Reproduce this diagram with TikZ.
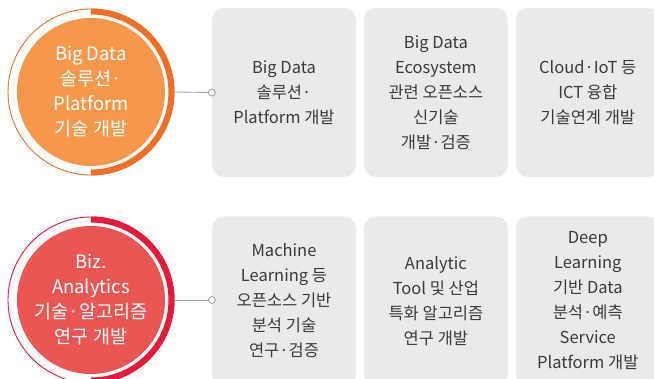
\documentclass[tikz,border=0pt]{standalone}
\usepackage{fontspec}
\setmainfont{Noto Sans CJK KR}
\usetikzlibrary{positioning}
\definecolor{cardGray}{RGB}{233,234,236}
\definecolor{bodyText}{RGB}{58,58,58}
\definecolor{orangeFill}{RGB}{246,152,76}
\definecolor{orangeRing}{RGB}{241,112,38}
\definecolor{redFill}{RGB}{233,86,84}
\definecolor{redRing}{RGB}{227,27,56}
\definecolor{linkGray}{RGB}{160,164,168}

\begin{document}
\begin{tikzpicture}[x=1pt, y=1pt,
  card/.style={fill=cardGray, rounded corners=12pt, minimum width=144pt, minimum height=169pt,
               align=center, text=bodyText, inner sep=0pt, font=\fontsize{16.5}{25}\selectfont},
  topic/.style={circle, minimum size=148pt, inner sep=0pt, align=center, text=white,
                font=\fontsize{18.5}{25}\selectfont},
  ringthin/.style={line width=0.9pt},
  ringthick/.style={line width=6pt},
  link/.style={draw=linkGray, line width=0.9pt},
  dotmark/.style={circle, draw=linkGray, fill=white, line width=0.9pt, minimum size=7pt, inner sep=0pt}
]
\useasboundingbox (0,0) rectangle (654,378);
\clip (0,0) rectangle (654,378);

% top row: Big Data
\node[topic, fill=orangeFill] (bigdata) at (91,286) {Big Data\\솔루션·\\Platform\\기술 개발};
\draw[ringthin, draw=orangeRing] (bigdata.center) circle[radius=83];
\draw[ringthick, draw=orangeRing] ([yshift=80.5pt]bigdata.center) arc[start angle=90, end angle=-90, radius=80.5];
\node[card] (bd1) at (284,285.5) {Big Data\\솔루션·\\Platform 개발};
\node[card, right=7.5pt of bd1] (bd2) {Big Data\\Ecosystem\\관련 오픈소스\\신기술\\개발·검증};
\node[card, right=7.5pt of bd2] (bd3) {Cloud·IoT 등\\ICT 융합\\기술연계 개발};
\coordinate (bdedge) at ([xshift=9.5pt]bigdata.east);
\node[dotmark] (bddot) at (bd1.west) {};
\draw[link] (bdedge) -- (bddot);

% bottom row: Biz. Analytics
\node[topic, fill=redFill] (bizana) at (91,78) {Biz.\\Analytics\\기술·알고리즘\\연구 개발};
\draw[ringthin, draw=redRing] (bizana.center) circle[radius=83];
\draw[ringthick, draw=redRing] ([yshift=80.5pt]bizana.center) arc[start angle=90, end angle=-90, radius=80.5];
\node[card] (ba1) at (284,77) {Machine\\Learning 등\\오픈소스 기반\\분석 기술\\연구·검증};
\node[card, right=7.5pt of ba1] (ba2) {Analytic\\Tool 및 산업\\특화 알고리즘\\연구 개발};
\node[card, right=7.5pt of ba2] (ba3) {Deep\\Learning\\기반 Data\\분석·예측\\Service\\Platform 개발};
\coordinate (baedge) at ([xshift=9.5pt]bizana.east);
\node[dotmark] (badot) at ([yshift=1pt]ba1.west) {};
\draw[link] (baedge) -- (badot);
\end{tikzpicture}
\end{document}
